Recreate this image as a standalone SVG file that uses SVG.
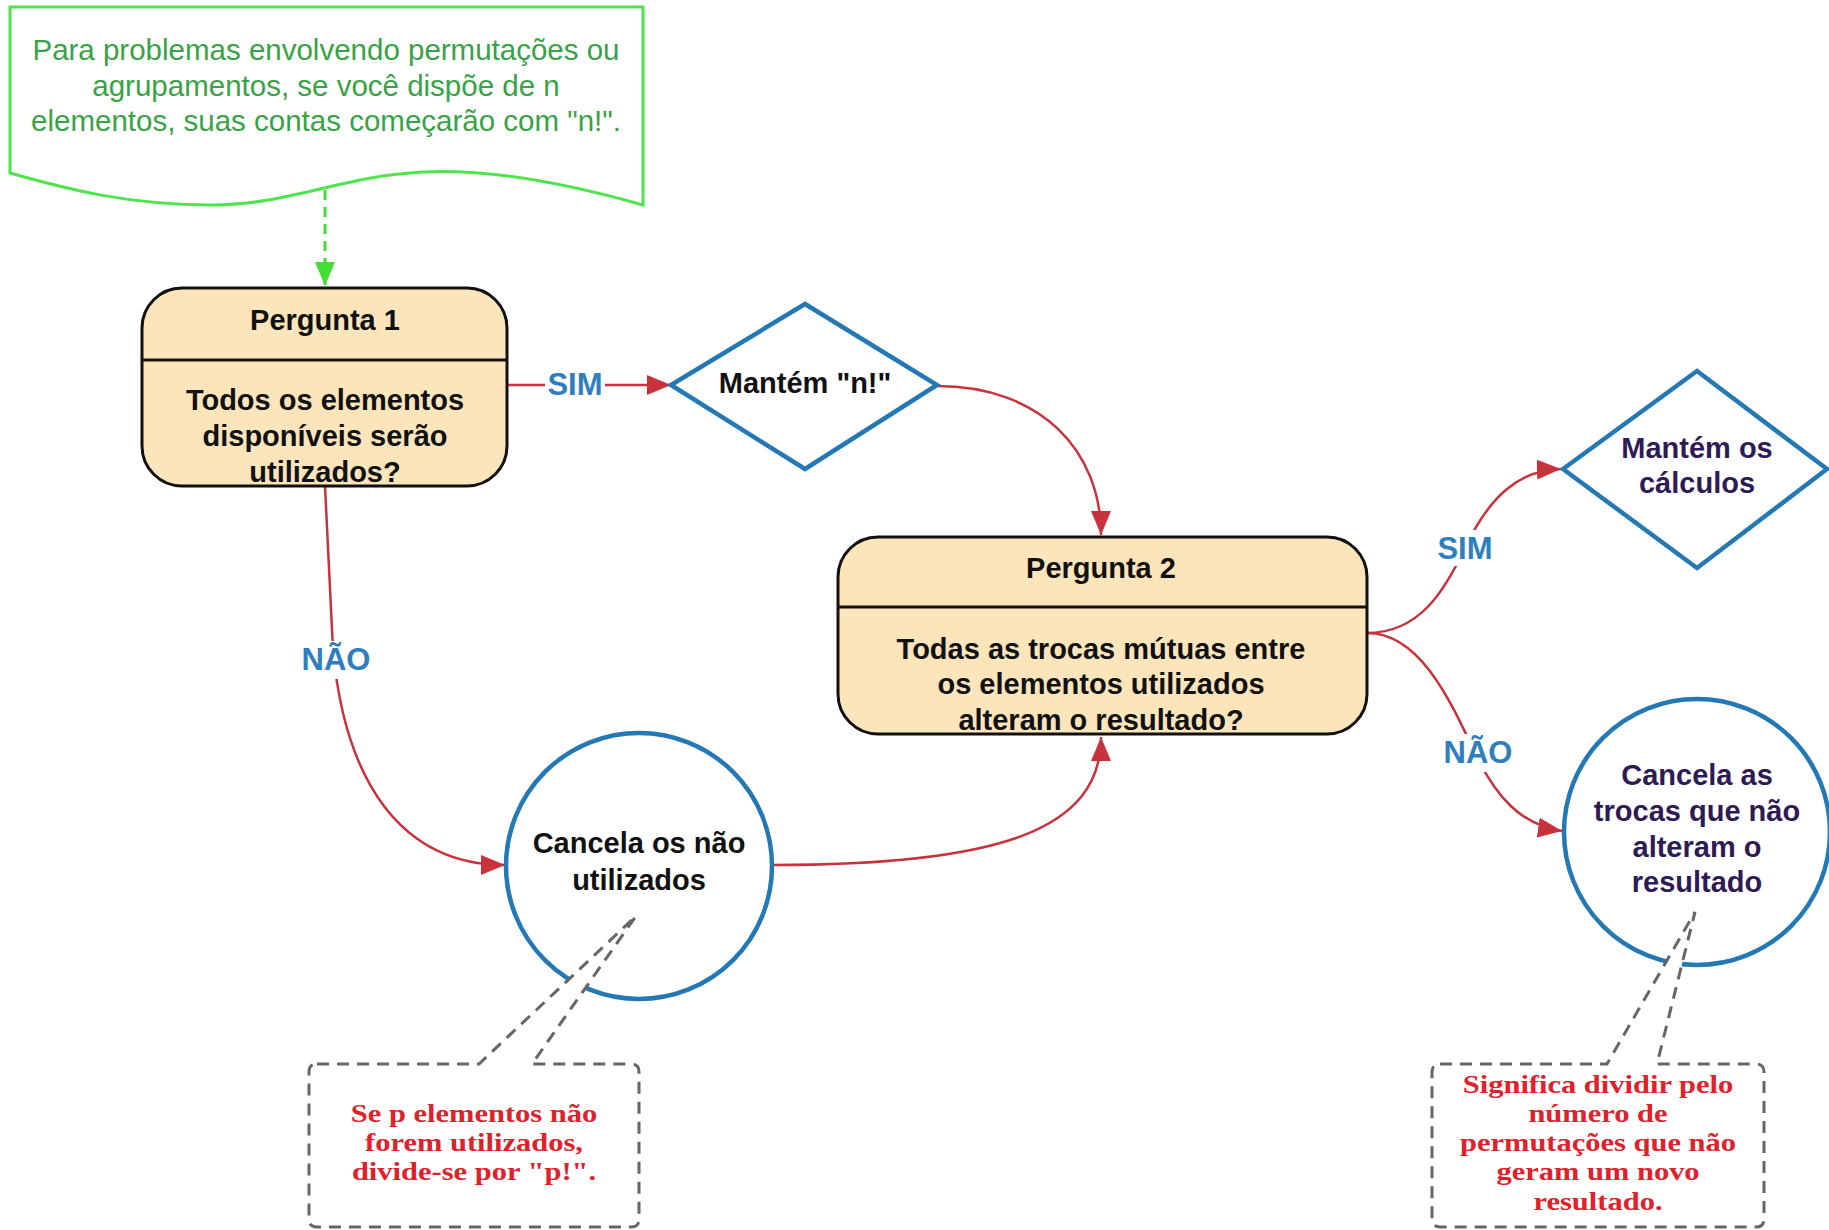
<svg xmlns="http://www.w3.org/2000/svg" width="1829" height="1230" viewBox="0 0 1829 1230">
  <style>
    .nodeText { font-family: "Liberation Sans", Arial, sans-serif; font-weight: bold; font-size: 29px; fill: #111; text-anchor: middle; }
    .purple { fill: #2e1a55; }
    .label { font-family: "Liberation Sans", Arial, sans-serif; font-weight: bold; font-size: 31px; fill: #2f7fbf; text-anchor: middle; }
    .note { font-family: "Liberation Sans", Arial, sans-serif; font-size: 29.5px; fill: #38a246; text-anchor: middle; }
    .serif { font-family: "Liberation Serif", "Times New Roman", serif; font-weight: bold; font-size: 25px; fill: #e0202a; text-anchor: middle; }
    .question { fill: #fce5bb; stroke: #111; stroke-width: 3; }
    .blueShape { fill: #fff; stroke: #2479b5; stroke-width: 4.5; }
    .callout { fill: #fff; stroke: #666; stroke-width: 3; stroke-dasharray: 12 8; }
    .conn { fill: none; stroke: #c8323c; stroke-width: 2.5; }
  </style>
  <defs>
    <marker id="arrowRed" markerUnits="userSpaceOnUse" markerWidth="26" markerHeight="22" refX="24" refY="10" orient="auto">
      <path d="M0,0 L24,10 L0,20 Z" fill="#c8323c"/>
    </marker>
    <marker id="arrowGreen" markerUnits="userSpaceOnUse" markerWidth="26" markerHeight="22" refX="24" refY="10" orient="auto">
      <path d="M0,0 L24,10 L0,20 Z" fill="#44dd33"/>
    </marker>
  </defs>
  <rect x="0" y="0" width="1829" height="1230" fill="#fff"/>

  <!-- Green note -->
  <g id="note">
    <path d="M10,7 H643 V205 C590,190 500,168 423,172 C340,176 290,205 211,205 C130,205 70,190 10,173 Z" fill="#fff" stroke="#4ee44e" stroke-width="3"/>
    <text class="note" x="326" y="60">Para problemas envolvendo permutações ou</text>
    <text class="note" x="326" y="96">agrupamentos, se você dispõe de n</text>
    <text class="note" x="326" y="131">elementos, suas contas começarão com "n!".</text>
  </g>

  <!-- Connectors -->
  <g id="connectors">
    <path d="M325,190 L325,286" fill="none" stroke="#44dd33" stroke-width="3" stroke-dasharray="10 7" marker-end="url(#arrowGreen)"/>
    <path class="conn" d="M507,385 L671,385" marker-end="url(#arrowRed)"/>
    <path class="conn" d="M937,386 C1040,386 1101,450 1101,535" marker-end="url(#arrowRed)"/>
    <path class="conn" d="M325,486 L333,650 C345,780 400,865 505,865" marker-end="url(#arrowRed)"/>
    <path class="conn" d="M772,865 C1000,865 1101,830 1101,737" marker-end="url(#arrowRed)"/>
    <path class="conn" d="M1367,633 C1420,633 1445,590 1465,548 C1490,495 1520,470 1561,469" marker-end="url(#arrowRed)"/>
    <path class="conn" d="M1367,633 C1420,633 1450,700 1475,753 C1495,795 1520,825 1562,831" marker-end="url(#arrowRed)"/>
    <rect x="545" y="366" width="60" height="36" fill="#fff"/>
    <rect x="302" y="641" width="68" height="38" fill="#fff"/>
    <rect x="1434" y="530" width="62" height="36" fill="#fff"/>
    <rect x="1442" y="734" width="70" height="38" fill="#fff"/>
    <text class="label" x="575" y="395">SIM</text>
    <text class="label" x="336" y="670">NÃO</text>
    <text class="label" x="1465" y="559">SIM</text>
    <text class="label" x="1478" y="763">NÃO</text>
  </g>

  <!-- Pergunta 1 -->
  <g id="pergunta1">
    <rect class="question" x="142" y="288" width="365" height="198" rx="40" ry="40"/>
    <line x1="142" y1="360" x2="507" y2="360" stroke="#111" stroke-width="3"/>
    <text class="nodeText" x="325" y="330">Pergunta 1</text>
    <text class="nodeText" x="325" y="410">Todos os elementos</text>
    <text class="nodeText" x="325" y="446">disponíveis serão</text>
    <text class="nodeText" x="325" y="482">utilizados?</text>
  </g>

  <!-- Mantém n! -->
  <g id="mantem-n">
    <polygon class="blueShape" points="671,385 805,304 937,385 805,469"/>
    <text class="nodeText" x="805" y="393">Mantém "n!"</text>
  </g>

  <!-- Pergunta 2 -->
  <g id="pergunta2">
    <rect class="question" x="838" y="537" width="529" height="197" rx="40" ry="40"/>
    <line x1="838" y1="607" x2="1367" y2="607" stroke="#111" stroke-width="3"/>
    <text class="nodeText" x="1101" y="578">Pergunta 2</text>
    <text class="nodeText" x="1101" y="659">Todas as trocas mútuas entre</text>
    <text class="nodeText" x="1101" y="694">os elementos utilizados</text>
    <text class="nodeText" x="1101" y="730">alteram o resultado?</text>
  </g>

  <!-- Cancela os não utilizados -->
  <g id="cancela-nao-utilizados">
    <circle class="blueShape" cx="639" cy="866" r="133"/>
    <text class="nodeText" x="639" y="853">Cancela os não</text>
    <text class="nodeText" x="639" y="890">utilizados</text>
  </g>

  <!-- Mantém os cálculos -->
  <g id="mantem-calculos">
    <polygon class="blueShape" points="1563,469 1697,371 1827,469 1697,568"/>
    <text class="nodeText purple" x="1697" y="458">Mantém os</text>
    <text class="nodeText purple" x="1697" y="493">cálculos</text>
  </g>

  <!-- Cancela as trocas -->
  <g id="cancela-trocas">
    <circle class="blueShape" cx="1697" cy="832" r="133"/>
    <text class="nodeText purple" x="1697" y="785">Cancela as</text>
    <text class="nodeText purple" x="1697" y="821">trocas que não</text>
    <text class="nodeText purple" x="1697" y="857">alteram o</text>
    <text class="nodeText purple" x="1697" y="892">resultado</text>
  </g>

  <!-- Callout 1 -->
  <g id="callout1">
    <path class="callout" d="M317,1064 L479,1064 L636,916 L532,1064 L631,1064 Q639,1064 639,1072 L639,1219 Q639,1227 631,1227 L317,1227 Q309,1227 309,1219 L309,1072 Q309,1064 317,1064 Z"/>
    <text class="serif" transform="translate(474,1122) scale(1.22,1)">Se p elementos não</text>
    <text class="serif" transform="translate(474,1151) scale(1.22,1)">forem utilizados,</text>
    <text class="serif" transform="translate(474,1180) scale(1.22,1)">divide-se por "p!".</text>
  </g>

  <!-- Callout 2 -->
  <g id="callout2">
    <path class="callout" d="M1440,1064 L1607,1064 L1695,912 L1657,1064 L1756,1064 Q1764,1064 1764,1072 L1764,1219 Q1764,1227 1756,1227 L1440,1227 Q1432,1227 1432,1219 L1432,1072 Q1432,1064 1440,1064 Z"/>
    <text class="serif" transform="translate(1598,1093) scale(1.22,1)">Significa dividir pelo</text>
    <text class="serif" transform="translate(1598,1122) scale(1.22,1)">número de</text>
    <text class="serif" transform="translate(1598,1151) scale(1.22,1)">permutações que não</text>
    <text class="serif" transform="translate(1598,1180) scale(1.22,1)">geram um novo</text>
    <text class="serif" transform="translate(1598,1210) scale(1.22,1)">resultado.</text>
  </g>
</svg>
